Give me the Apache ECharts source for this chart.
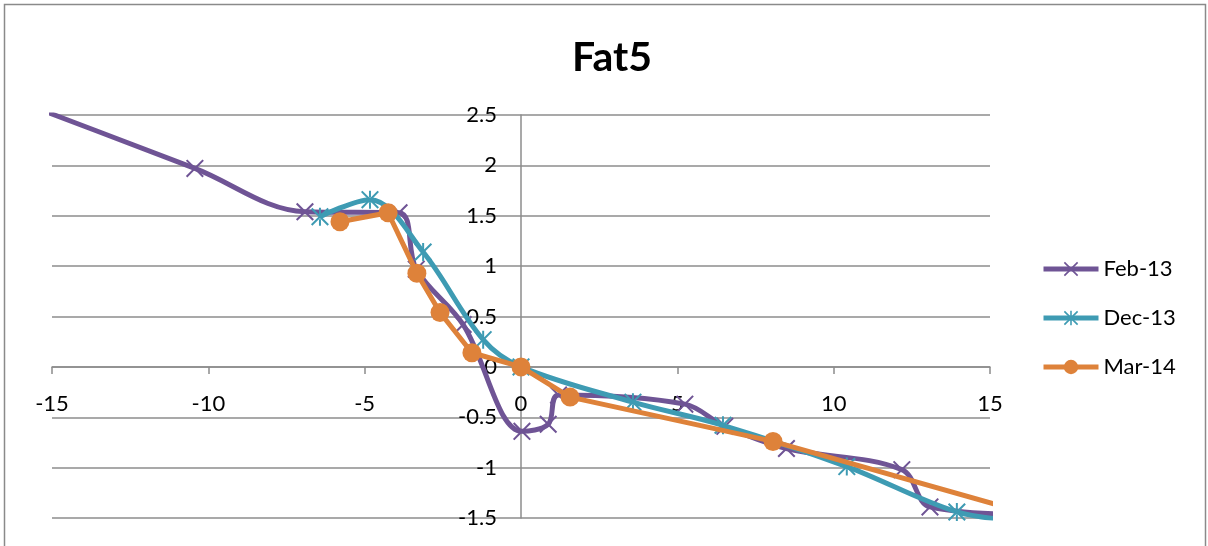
<!DOCTYPE html>
<html>
<head>
<meta charset="utf-8">
<script src="https://cdn.jsdelivr.net/npm/echarts@6/dist/echarts.min.js"></script>
<style>
  html, body { margin: 0; padding: 0; background: #fff; }
  #chart { width: 1208px; height: 546px; }
</style>
</head>
<body>
<div id="chart"></div>
<script>
// Fat5 readings per survey date (x, y pairs)
const feb13X = [-18.5, -10.43, -6.91, -3.9, -3.35, -1.85, 0.03, 0.87, 1.2, 5.24, 6.52, 8.49, 12.18, 13.08, 16.5];
const feb13Y = [2.92, 1.97, 1.54, 1.53, 0.97, 0.42, -0.64, -0.57, -0.28, -0.37, -0.59, -0.81, -1.02, -1.39, -1.47];

const dec13X = [-6.43, -4.83, -3.13, -1.21, 0, 3.58, 6.46, 10.42, 13.94, 16];
const dec13Y = [1.49, 1.66, 1.14, 0.27, 0, -0.35, -0.58, -0.99, -1.44, -1.53];

const mar14X = [-5.79, -4.25, -3.33, -2.59, -1.57, 0, 1.57, 8.06, 16.5];
const mar14Y = [1.44, 1.53, 0.93, 0.54, 0.14, 0, -0.30, -0.74, -1.48];

const seriesNames = ['Feb-13', 'Dec-13', 'Mar-14'];

const pairs = (xs, ys) => xs.map((x, i) => [x, ys[i]]);

// marker shapes: an "x" cross and an asterisk
const crossPath = 'path://M0,0.8 L0.8,0 L5,4.2 L9.2,0 L10,0.8 L5.8,5 L10,9.2 L9.2,10 L5,5.8 L0.8,10 L0,9.2 L4.2,5 Z';
const starPath = 'path://M0,0.8 L0.8,0 L5,4.2 L9.2,0 L10,0.8 L5.8,5 L10,9.2 L9.2,10 L5,5.8 L0.8,10 L0,9.2 L4.2,5 Z' +
  ' M4.45,0 L5.55,0 L5.55,3.6 L4.45,3.6 Z M4.45,6.4 L5.55,6.4 L5.55,10 L4.45,10 Z';

const purple = '#6F5495';
const teal = '#3E9BB3';
const orange = '#DE823A';
const gridGray = '#8C8C8C';
const fontFamily = 'Lato, "Liberation Sans", sans-serif';

// plot rectangle in pixels
const gridLeft = 52, gridRight = 990, gridTop = 115, gridBottom = 518;
const xMin = -15, xMax = 15, yMin = -1.5, yMax = 2.5;
// axes cross at the origin: shift each axis from its grid edge to zero
const xAxisShift = -(gridBottom - gridTop) * (0 - yMin) / (yMax - yMin);
const yAxisShift = -(gridRight - gridLeft) * (0 - xMin) / (xMax - xMin);

const chart = echarts.init(document.getElementById('chart'), null, { renderer: 'canvas' });

chart.setOption({
  backgroundColor: '#fff',
  animation: false,
  textStyle: { fontFamily: fontFamily },
  graphic: [{
    type: 'rect',
    shape: { x: 4.5, y: 4.5, width: 1201, height: 600 },
    style: { fill: 'none', stroke: '#8A8A8A', lineWidth: 1.5 },
    silent: true, z: -10
  }],
  title: {
    text: 'Fat5',
    left: 607, top: 32,
    textAlign: 'center',
    textStyle: { fontFamily: fontFamily, fontWeight: 'bold', fontSize: 41, color: '#000' }
  },
  legend: {
    orient: 'vertical',
    left: 1036, top: 253,
    itemWidth: 55, itemHeight: 18, itemGap: 27,
    data: seriesNames,
    lineStyle: { width: 5 },
    textStyle: { fontFamily: fontFamily, fontSize: 22, color: '#000' }
  },
  grid: {
    left: gridLeft, right: 1208 - gridRight, top: gridTop, bottom: 546 - gridBottom,
    containLabel: false, outerBoundsMode: 'none'
  },
  xAxis: {
    type: 'value',
    min: xMin, max: xMax, interval: 5,
    position: 'bottom', offset: xAxisShift,
    axisLine: { onZero: false, lineStyle: { color: gridGray, width: 1.5 } },
    axisTick: { show: true, inside: false, length: 7, lineStyle: { color: gridGray, width: 1.5 } },
    axisLabel: { margin: 26, fontSize: 22, color: '#000', fontFamily: fontFamily },
    splitLine: { show: false }
  },
  yAxis: {
    type: 'value',
    min: yMin, max: yMax, interval: 0.5,
    position: 'left', offset: yAxisShift,
    axisLine: { show: true, onZero: false, lineStyle: { color: gridGray, width: 1.5 } },
    axisTick: { show: false },
    axisLabel: { margin: 24, fontSize: 22, color: '#000', fontFamily: fontFamily },
    splitLine: { show: true, lineStyle: { color: gridGray, width: 1.5 } }
  },
  series: [
    {
      name: seriesNames[0], type: 'line', smooth: 0.35, clip: true,
      data: pairs(feb13X, feb13Y),
      symbol: crossPath, symbolSize: 18,
      lineStyle: { color: purple, width: 5 },
      itemStyle: { color: purple },
      z: 3
    },
    {
      name: seriesNames[1], type: 'line', smooth: 0.35, clip: true,
      data: pairs(dec13X, dec13Y),
      symbol: starPath, symbolSize: 18,
      lineStyle: { color: teal, width: 5 },
      itemStyle: { color: teal },
      z: 4
    },
    {
      name: seriesNames[2], type: 'line', smooth: false, clip: true,
      data: pairs(mar14X, mar14Y),
      symbol: 'circle', symbolSize: 19,
      lineStyle: { color: orange, width: 5 },
      itemStyle: { color: orange, borderWidth: 0 },
      z: 5
    }
  ]
});
</script>
</body>
</html>
